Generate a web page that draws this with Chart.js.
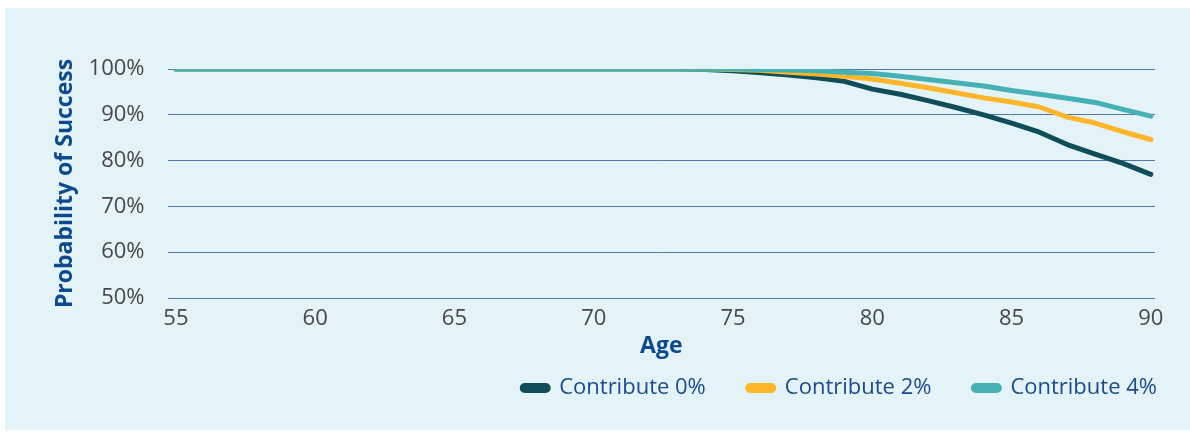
<!DOCTYPE html>
<html lang="en">

<head>
  <meta charset="UTF-8">
  <title>Probability of Success by Age</title>
  <script src="https://cdn.jsdelivr.net/npm/chart.js"></script>
  <style>
    body { margin: 0; background: #ffffff; overflow: hidden; }
    .painel {
      position: absolute; left: 5px; top: 8px; width: 1185px; height: 422px;
      background: #e4f3f8;
    }
    .grafico { position: absolute; left: 0; top: 0; width: 1190px; height: 432px; }
  </style>
</head>

<body>
  <div class="painel"></div>
  <div class="grafico">
    <canvas id="myChart" width="1190" height="432"></canvas>
  </div>

<script>
  // ages 55..90
  const idades = [55, 56, 57, 58, 59, 60, 61, 62, 63, 64, 65, 66, 67, 68, 69, 70, 71, 72,
    73, 74, 75, 76, 77, 78, 79, 80, 81, 82, 83, 84, 85, 86, 87, 88, 89, 90];

  const contribui0 = [100, 100, 100, 100, 100, 100, 100, 100, 100, 100, 100, 100, 100, 100, 100, 100, 100, 100,
    100, 99.9, 99.6, 99.2, 98.7, 98.1, 97.3, 95.6, 94.5, 93.1, 91.6, 90.0, 88.2, 86.2, 83.5, 81.4, 79.4, 77.0];

  const contribui2 = [100, 100, 100, 100, 100, 100, 100, 100, 100, 100, 100, 100, 100, 100, 100, 100, 100, 100,
    100, 100, 99.9, 99.7, 99.3, 98.9, 98.4, 97.8, 96.9, 95.9, 94.8, 93.7, 92.8, 91.7, 89.5, 88.2, 86.3, 84.6];

  const contribui4 = [100, 100, 100, 100, 100, 100, 100, 100, 100, 100, 100, 100, 100, 100, 100, 100, 100, 100,
    100, 100, 100, 99.9, 99.8, 99.6, 99.3, 99.0, 98.4, 97.7, 97.0, 96.3, 95.3, 94.5, 93.6, 92.7, 91.2, 89.7];

  const ticksX = [55, 60, 65, 70, 75, 80, 85, 90];
  const nomesSeries = ['Contribute 0%', 'Contribute 2%', 'Contribute 4%'];

  const fonte = '"Open Sans", sans-serif';

  const pontos = (vals) => idades.map((a, i) => ({ x: a, y: vals[i] }));

  // legenda mais perto do eixo e alinhada com a borda direita
  const ajusteLegenda = {
    id: 'ajusteLegenda',
    afterLayout(chart) {
      chart.legend.top -= 23;
      chart.legend.right += 44;
    }
  };

  const ctx = document.getElementById('myChart');
  new Chart(ctx, {
    type: 'line',
    data: {
      datasets: [
        {
          label: nomesSeries[0],
          data: pontos(contribui0),
          borderColor: '#0f4d59',
          backgroundColor: '#0f4d59',
          order: 2,
        },
        {
          label: nomesSeries[1],
          data: pontos(contribui2),
          borderColor: '#fdb62a',
          backgroundColor: '#fdb62a',
          order: 1,
        },
        {
          label: nomesSeries[2],
          data: pontos(contribui4),
          borderColor: '#46b1b4',
          backgroundColor: '#46b1b4',
          order: 0,
        },
      ]
    },
    plugins: [ajusteLegenda],
    options: {
      responsive: false,
      animation: false,
      layout: { padding: { left: 46, right: 35, top: 69, bottom: 0 } },
      elements: {
        line: { borderWidth: 5, borderCapStyle: 'round', borderJoinStyle: 'round', tension: 0 },
        point: { radius: 0 }
      },
      plugins: {
        tooltip: { enabled: false },
        legend: {
          position: 'bottom',
          align: 'end',
          labels: {
            boxWidth: 26,
            boxHeight: 5,
            useBorderRadius: true,
            borderRadius: 2.5,
            padding: 42,
            color: '#1b4b8c',
            font: { family: fonte, size: 22 },
            sort: (a, b) => a.datasetIndex - b.datasetIndex
          }
        }
      },
      scales: {
        x: {
          type: 'linear',
          min: 54.7,
          max: 90.15,
          afterBuildTicks: (axis) => { axis.ticks = ticksX.map(v => ({ value: v })); },
          grid: { display: false, drawTicks: false },
          border: { display: false },
          ticks: { color: '#474747', font: { family: fonte, size: 22 }, padding: 8 },
          title: {
            display: true, text: 'Age', color: '#0c4a8f',
            font: { family: fonte, size: 23, weight: 'bold' }, padding: { top: -8, bottom: -2 }
          }
        },
        y: {
          min: 50,
          max: 100,
          border: { display: false },
          grid: { color: '#4f79ad', lineWidth: 1, drawTicks: false },
          ticks: {
            stepSize: 10, color: '#474747', padding: 23,
            font: { family: fonte, size: 22 },
            callback: (v) => v + '%'
          },
          title: {
            display: true, text: 'Probability of Success', color: '#0c4a8f',
            font: { family: fonte, size: 23, weight: 'bold' }, padding: { top: 6, bottom: -14 }
          }
        }
      }
    }
  });
</script>
</body>

</html>
